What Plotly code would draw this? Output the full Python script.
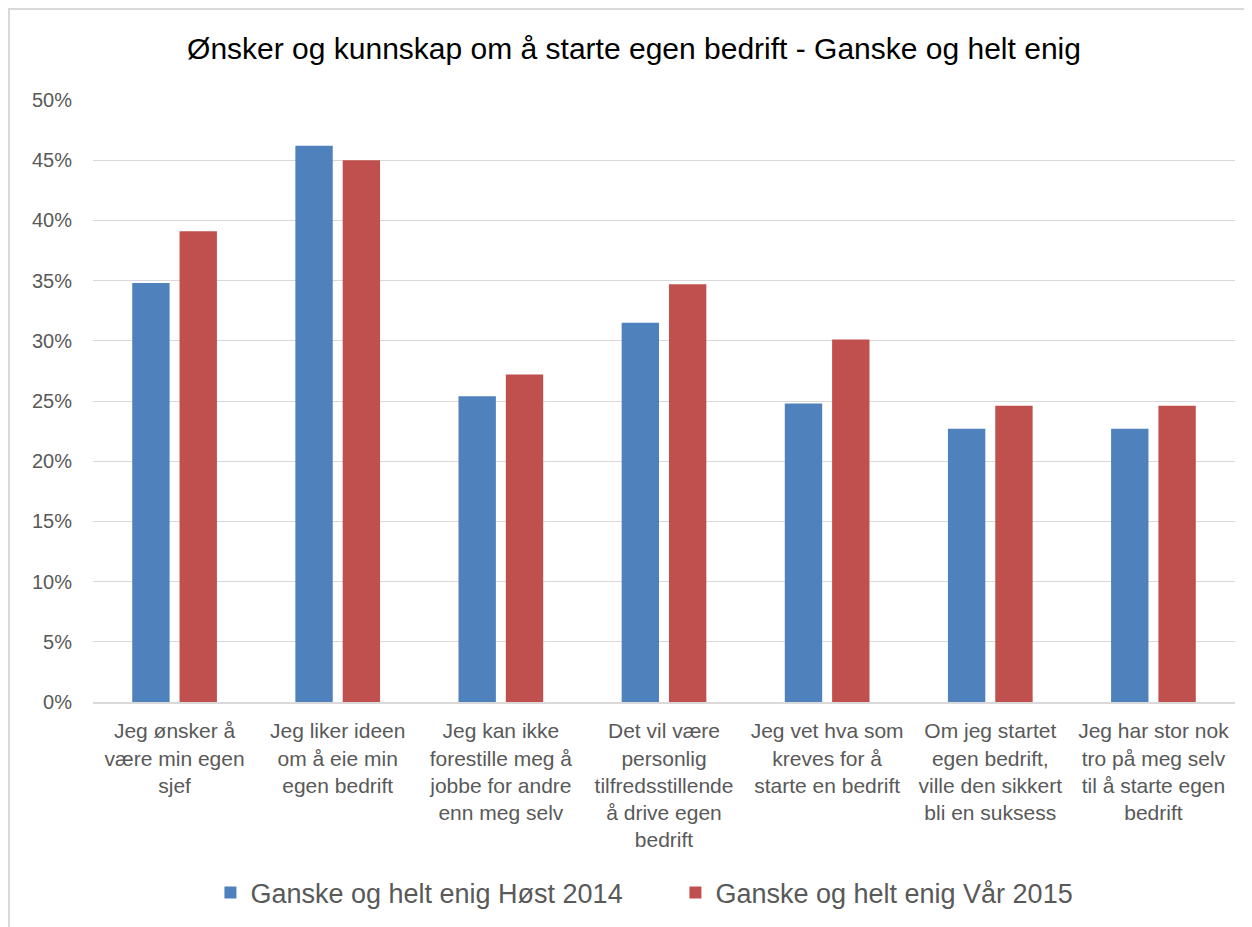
import plotly.graph_objects as go

categories = [
    "Jeg ønsker å<br>være min egen<br>sjef",
    "Jeg liker ideen<br>om å eie min<br>egen bedrift",
    "Jeg kan ikke<br>forestille meg å<br>jobbe for andre<br>enn meg selv",
    "Det vil være<br>personlig<br>tilfredsstillende<br>å drive egen<br>bedrift",
    "Jeg vet hva som<br>kreves for å<br>starte en bedrift",
    "Om jeg startet<br>egen bedrift,<br>ville den sikkert<br>bli en suksess",
    "Jeg har stor nok<br>tro på meg selv<br>til å starte egen<br>bedrift",
]
host_2014 = [0.348, 0.462, 0.254, 0.315, 0.248, 0.227, 0.227]
var_2015 = [0.391, 0.450, 0.272, 0.347, 0.301, 0.246, 0.246]
series_names = ["Ganske og helt enig Høst 2014", "Ganske og helt enig Vår 2015"]
title_text = "Ønsker og kunnskap om å starte egen bedrift - Ganske og helt enig"

FONT = "Liberation Sans, Arial, sans-serif"
GREY = "#595959"

L, R, T, B = 85, 25, 92, 233
plot_w = 1252 - L - R
plot_h = 927 - T - B

fig = go.Figure()
fig.add_trace(go.Bar(x=categories, y=host_2014, name=series_names[0],
                     marker=dict(color="#4F81BD", line=dict(width=0))))
fig.add_trace(go.Bar(x=categories, y=var_2015, name=series_names[1],
                     marker=dict(color="#C0504D", line=dict(width=0))))

fig.update_layout(
    width=1252, height=927,
    margin=dict(l=L, r=R, t=T, b=B),
    paper_bgcolor="white", plot_bgcolor="white",
    barmode="group", bargap=0.42, bargroupgap=0.21,
    title=dict(text=title_text, x=0.5, xanchor="center", y=1 - 40 / 927, yanchor="middle",
               font=dict(family=FONT, size=30, color="black")),
    font=dict(family=FONT, color=GREY),
    xaxis=dict(tickfont=dict(size=21, color=GREY), showline=True,
               linecolor="#d9d9d9", linewidth=2, ticks="", tickangle=0,
               ticklabelstandoff=9),
    yaxis=dict(range=[0, 0.5], dtick=0.05, tickformat=".0%",
               tickfont=dict(size=20, color=GREY), gridcolor="#d9d9d9",
               gridwidth=1, zeroline=False, ticks="", ticklabelstandoff=20),
    legend=dict(orientation="h", x=0.51, xanchor="center", y=(694 - 885) / plot_h, yanchor="middle",
                font=dict(size=27, color=GREY), itemwidth=30, entrywidth=420,
                entrywidthmode="pixels"),
    shapes=[dict(type="rect", xref="paper", yref="paper",
                 x0=(1 - L) / plot_w, x1=1.2, y0=-0.6, y1=1 + (T - 1) / plot_h,
                 line=dict(color="#d9d9d9", width=2), layer="below")],
)

fig.write_html("out.html")
